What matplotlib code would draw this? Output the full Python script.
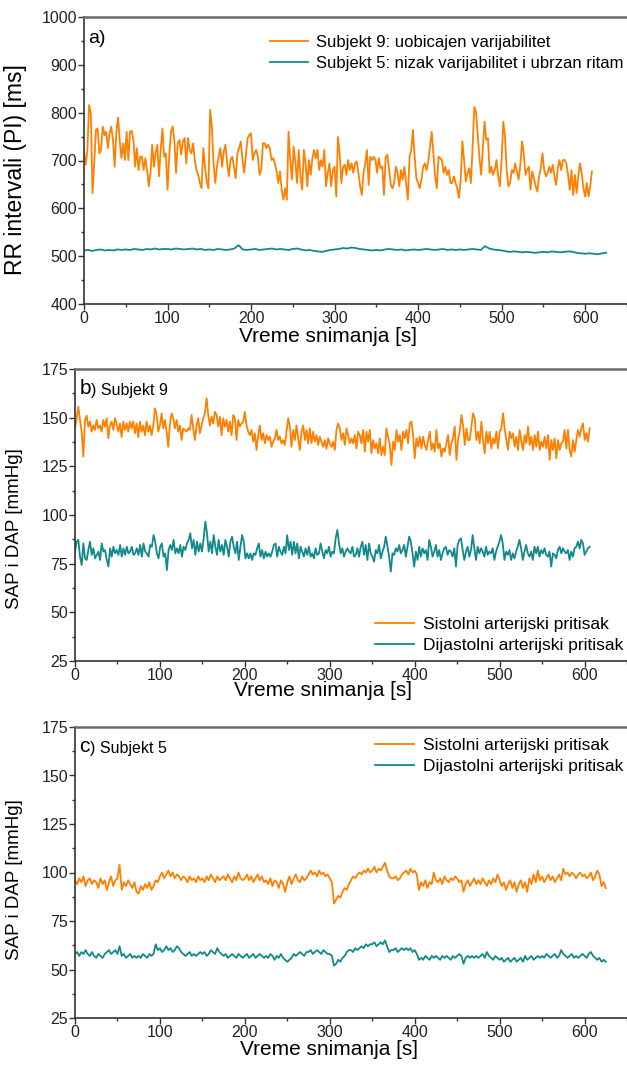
import numpy as np
import matplotlib
matplotlib.use("Agg")
import matplotlib.pyplot as plt
from matplotlib.ticker import MultipleLocator

plt.rcParams['font.family'] = ['Liberation Sans', 'DejaVu Sans']

# ---- data ----
# a) RR intervals [ms]
rr_s9_end = 608
rr_s9 = [
    719, 691, 722, 816, 799, 632, 694, 764, 767, 715,
    722, 771, 753, 760, 726, 757, 771, 743, 687, 760,
    790, 740, 705, 736, 701, 760, 701, 760, 762, 743,
    687, 726, 680, 708, 708, 680, 705, 680, 646, 674,
    733, 687, 715, 733, 667, 722, 767, 708, 715, 639,
    708, 760, 771, 743, 674, 736, 743, 712, 740, 747,
    694, 747, 722, 715, 736, 701, 680, 670, 653, 642,
    726, 687, 656, 642, 806, 771, 694, 653, 687, 708,
    726, 687, 719, 733, 694, 667, 701, 708, 687, 663,
    715, 726, 740, 701, 674, 712, 747, 753, 757, 701,
    715, 722, 708, 670, 680, 736, 736, 726, 733, 726,
    701, 705, 694, 677, 653, 677, 639, 618, 642, 618,
    760, 701, 660, 729, 698, 653, 722, 667, 639, 722,
    694, 646, 701, 670, 705, 722, 705, 722, 680, 701,
    687, 722, 646, 674, 694, 646, 680, 687, 625, 749,
    715, 653, 687,
    691, 670, 701, 680, 694, 674, 694, 698, 674, 646,
    628, 674, 694, 722, 649, 708, 701, 708, 701, 674,
    705, 684, 687, 628, 708, 712, 680, 649, 642, 653,
    687, 674, 646, 680, 660, 687, 653, 618, 708, 722,
    764, 708, 663, 653, 642, 660, 687, 694, 680, 698,
    729, 760, 715, 667, 642, 708, 705, 701, 674, 687,
    670, 680, 653, 653, 667, 653, 642, 622, 660, 740,
    701, 656, 674, 684, 653, 729, 812, 802, 753, 708,
    670, 726, 781, 743, 747, 674, 687, 670, 680, 701,
    667, 646, 701, 781, 750, 680, 646, 653, 680, 674,
    694, 677, 660, 691, 740, 715, 670, 680, 687, 639,
    677, 663, 646, 635, 667, 684, 715, 680, 667, 674,
    687, 674, 691, 667, 649, 684, 701, 680, 701, 701,
    694, 670, 639, 680, 628, 670, 632, 667, 694, 674,
    642, 625, 653, 625, 646, 677,
]
rr_s5_end = 625
rr_s5 = [
    512, 513, 511, 513, 514, 512, 513, 512, 514, 513,
    514, 513, 515, 514, 513, 515, 514, 516, 514, 515,
    515, 514, 516, 515, 514, 515, 516, 514, 515, 513,
    514, 513, 515, 514, 513, 514, 516, 523, 514, 513,
    514, 515, 513, 514, 515, 516, 514, 515, 514, 513,
    515, 516, 514, 512, 513, 511, 510, 509, 511, 513,
    514, 515, 517, 516, 518, 517, 515, 514, 513, 512,
    513, 512, 514, 515, 514, 513, 514, 512, 513, 514,
    513, 514, 515, 514, 513, 514, 515, 513, 514, 513,
    514, 513, 514, 515, 514, 513, 521, 516, 514, 513,
    512, 510, 509, 510, 509, 508, 509, 508, 507, 508,
    509, 508, 510, 509, 508, 509, 510, 509, 507, 506,
    505, 506, 505, 504, 506, 507,
]

# b) Subjekt 9, SAP / DAP [mmHg]
bp9_end = 606
sap9 = [
    144.5, 149.7, 155.6, 148.8, 142.8, 130.0, 148.8, 151.0, 145.4, 148.0,
    142.8, 146.0, 143.7, 148.8, 144.5, 146.0, 142.8, 148.8, 145.4, 149.7,
    139.4, 146.0, 148.0, 143.7, 149.7, 147.0, 142.8, 147.0, 140.0, 148.0,
    143.7, 147.0, 142.8, 148.0, 144.5, 148.0, 142.0, 147.0, 140.0, 148.0,
    142.8, 146.0, 141.0, 148.0, 142.8, 146.0, 141.0, 146.0, 154.8, 151.4,
    142.8, 146.0, 152.2, 144.5, 148.8, 142.8, 135.0, 147.0, 152.2, 149.7,
    144.5, 148.8, 142.8, 146.0, 138.5, 144.5, 143.7, 142.8, 144.5, 143.7,
    151.4, 144.5, 138.5, 146.0, 149.7, 142.0, 146.0, 149.7, 152.2, 160.0,
    151.4, 146.0, 150.5, 147.0, 153.0, 151.4, 145.4, 150.5, 141.0, 149.7,
    145.4, 148.8, 142.8, 148.0, 141.0, 151.4, 149.7, 138.5, 148.8, 145.4,
    147.0, 148.0, 153.0, 146.0, 142.8, 141.0, 143.7, 137.7, 142.0, 133.4,
    141.0, 146.0, 138.5, 142.0, 136.8, 141.0, 138.5, 140.3, 135.0, 137.7,
    139.4, 143.7, 138.5, 140.3, 136.8, 138.5, 136.0, 142.8, 149.7, 145.4,
    135.0, 143.7, 138.5, 146.0, 139.4, 133.4, 142.8, 146.0, 138.5, 143.7,
    136.8, 144.5, 136.8, 142.8, 137.7, 141.0, 136.0, 140.3, 137.7, 135.0,
    138.5, 134.0, 139.4, 136.8, 135.0, 137.7, 133.4, 143.7, 147.0, 144.5,
    138.5, 142.0, 136.0, 144.5, 141.0, 136.8,
    139.4, 136.8, 141.1, 134.2, 142.8, 141.1, 136.8, 143.7, 132.5, 142.8,
    137.7, 143.7, 131.7, 138.5, 134.2, 136.8, 131.7, 139.4, 130.8, 135.1,
    130.8, 144.5, 140.2, 136.0, 125.7, 137.7, 133.4, 143.7, 137.7, 141.1,
    133.4, 142.8, 139.4, 143.7, 136.8, 147.1, 148.0, 141.1, 129.1, 139.4,
    135.1, 140.2, 134.2, 140.2, 136.0, 133.4, 138.5, 142.8, 133.4, 136.8,
    132.5, 143.7, 134.2, 136.8, 130.0, 134.2, 132.5, 136.8, 141.1, 130.8,
    136.8, 139.4, 145.4, 128.3, 138.5, 142.8, 151.4, 146.2, 136.0, 144.5,
    138.5, 138.5, 145.4, 152.2, 149.7, 138.5, 142.8, 136.8, 148.0, 138.5,
    131.7, 142.8, 136.8, 142.8, 134.2, 139.4, 136.8, 142.8, 134.2, 142.8,
    144.5, 152.2, 144.5, 138.5, 133.4, 142.8, 139.4, 142.0, 135.1, 140.2,
    133.4, 143.7, 137.7, 133.4, 141.1, 136.8, 145.4, 136.0, 140.2, 133.4,
    141.1, 135.1, 142.8, 133.4, 137.7, 135.1, 140.2, 134.2, 141.1, 128.3,
    138.5, 133.4, 139.4, 129.1, 138.5, 133.4, 136.8, 137.7, 143.7, 134.2,
    143.7, 133.4, 130.0, 138.5, 132.5, 138.5, 143.7, 140.2, 144.5, 147.1,
    138.5, 142.0, 137.7, 144.5,
]
dap9 = [
    81.2, 86.3, 87.2, 78.6, 74.3, 85.4, 77.7, 76.9, 82.0, 86.3,
    79.5, 82.9, 77.7, 79.5, 81.2, 76.9, 85.4, 81.2, 82.0, 76.9,
    73.5, 82.9, 78.6, 83.7, 80.3, 82.0, 79.5, 84.6, 78.6, 82.9,
    79.5, 83.7, 80.3, 81.2, 83.7, 79.5, 80.3, 82.9, 79.5, 84.6,
    78.6, 85.4, 81.2, 80.3, 78.6, 84.6, 83.7, 89.7, 86.3, 80.3,
    77.7, 83.7, 85.4, 78.6, 80.3, 71.7, 82.0, 84.6, 82.0, 87.2,
    80.3, 82.9, 80.3, 84.6, 78.6, 83.7, 82.0, 85.4, 87.2, 90.6,
    82.9, 87.2, 79.5, 86.3, 81.2, 85.4, 81.2, 88.0, 96.6, 90.6,
    81.2, 86.3, 80.3, 89.7, 83.7, 79.5, 87.2, 81.2, 84.6, 79.5,
    87.2, 83.7, 78.6, 86.3, 88.9, 83.7, 80.3, 86.3, 76.9, 83.7,
    89.7, 86.3, 77.7, 80.3, 77.7, 80.3, 76.9, 80.3, 79.5, 82.9,
    85.4, 78.6, 82.0, 77.7, 81.2, 78.6, 80.3, 78.6, 81.2, 84.6,
    85.4, 78.6, 83.7, 81.2, 79.5, 83.7, 80.3, 89.7, 82.0, 86.3,
    79.5, 86.3, 80.3, 85.4, 77.7, 83.7, 81.2, 78.6, 82.9, 79.5,
    83.7, 78.6, 80.3, 77.7, 82.9, 79.5, 80.3, 85.4, 81.2, 77.7,
    82.0, 80.3, 83.7, 78.6, 81.2, 80.3, 88.0, 92.3, 85.4, 80.3,
    82.9, 78.6, 81.2, 82.9, 81.2,
    80.3, 83.7, 78.6, 79.5, 82.9, 78.6, 83.7, 86.3, 79.5, 84.6,
    76.9, 85.4, 80.3, 78.6, 76.0, 82.0, 80.3, 84.6, 77.7, 81.2,
    83.7, 88.9, 83.7, 78.6, 70.9, 80.3, 79.5, 82.9, 81.2, 84.6,
    80.3, 82.0, 84.6, 78.6, 83.7, 88.9, 86.3, 80.3, 73.5, 81.2,
    76.9, 83.7, 78.6, 82.9, 80.3, 82.0, 76.9, 87.2, 83.7, 78.6,
    81.2, 84.6, 78.6, 82.0, 76.9, 80.3, 82.9, 83.7, 79.5, 82.0,
    81.2, 78.6, 82.9, 73.5, 84.6, 87.2, 88.0, 82.0, 76.9, 81.2,
    83.7, 78.6, 82.0, 89.7, 82.9, 76.9, 83.7, 80.3, 82.9, 81.2,
    78.6, 83.7, 79.5, 81.2, 80.3, 82.9, 76.9, 81.2, 83.7, 86.3,
    89.7, 85.4, 76.9, 81.2, 79.5, 82.0, 76.9, 80.3, 77.7, 81.2,
    83.7, 87.2, 82.9, 76.9, 81.2, 84.6, 80.3, 78.6, 81.2, 76.9,
    83.7, 80.3, 83.7, 78.6, 82.0, 80.3, 82.9, 79.5, 78.6, 81.2,
    73.5, 80.3, 79.5, 77.7, 82.0, 83.7, 80.3, 82.9, 81.2, 80.3,
    82.0, 76.9, 81.2, 78.6, 82.9, 83.7, 86.3, 82.9, 87.2, 85.4,
    79.5, 81.2, 82.9, 83.7,
]

# c) Subjekt 5, SAP / DAP [mmHg], one value every 2.5 s
bp5_end = 625
sap5 = [
    96, 94, 97, 95, 98, 93, 96, 97, 94, 96,
    95, 92, 97, 94, 96, 91, 95, 98, 93, 96,
    97, 104, 91, 95, 93, 96, 94, 92, 95, 90,
    89, 93, 91, 94, 92, 95, 91, 93, 96, 95,
    98, 100, 97, 99, 101, 98, 100, 97, 99, 98,
    96, 98, 97, 95, 98, 96, 97, 95, 98, 96,
    97, 95, 98, 96, 99, 97, 95, 98, 96, 97,
    98, 96, 99, 97, 95, 98, 96, 100, 97, 96,
    97, 99, 96, 98, 95, 97, 99, 96, 98, 95,
    96, 94, 97, 93, 96, 95, 92, 96, 94, 90,
    95, 98, 94, 97, 99, 96, 95, 98, 96, 97,
    99, 101, 99, 100, 98, 101, 99, 100, 98, 99,
    97, 95, 84, 86, 88, 87, 90, 92, 91, 94,
    96, 98, 97, 99, 100, 99, 101, 100, 102, 100,
    101, 103, 100, 102, 101, 103, 105, 101, 98, 97,
    97, 98, 96, 97, 99, 100, 101, 99, 102, 100,
    101, 99, 91, 95, 93, 96, 92, 95, 94, 100,
    96, 95, 97, 94, 98, 96, 95, 97, 96, 98,
    97, 95, 96, 90, 94, 96, 93, 95, 97, 94,
    96, 94, 97, 95, 93, 96, 94, 97, 95, 99,
    96, 93, 95, 91, 94, 96, 92, 95, 90, 94,
    96, 92, 95, 90, 97, 94, 99, 95, 101, 96,
    98, 95, 97, 99, 96, 98, 95, 97, 99, 96,
    102, 99, 100, 98, 100, 99, 97, 99, 100, 98,
    99, 97, 98, 100, 96, 98, 101, 99, 93, 95,
    92,
]
dap5 = [
    58, 59, 57, 59, 58, 60, 58, 57, 59, 57,
    56, 58, 57, 56, 58, 59, 60, 58, 59, 60,
    58, 62, 57, 58, 56, 57, 58, 56, 57, 56,
    57, 56, 58, 57, 56, 58, 57, 58, 63, 60,
    61, 59, 60, 62, 60, 61, 59, 60, 62, 61,
    59, 58, 57, 58, 59, 57, 58, 57, 58, 59,
    58, 59, 57, 58, 60, 59, 58, 61, 59, 58,
    57, 58, 56, 57, 58, 57, 56, 58, 57, 56,
    57, 58, 56, 57, 58, 56, 57, 58, 57, 56,
    57, 56, 58, 57, 55, 57, 56, 58, 56, 55,
    54, 55, 56, 58, 57, 58, 59, 58, 57, 59,
    59, 60, 58, 59, 60, 59, 58, 60, 59, 58,
    58, 57, 52, 53, 55, 54, 56, 57, 59, 60,
    60, 59, 61, 60, 61, 62, 61, 63, 62, 63,
    63, 64, 62, 63, 64, 63, 65, 62, 59, 60,
    60, 61, 59, 60, 61, 60, 61, 60, 61, 59,
    60, 58, 55, 56, 55, 57, 56, 55, 57, 56,
    57, 56, 55, 57, 56, 57, 56, 55, 57, 56,
    57, 58, 57, 53, 56, 57, 56, 57, 56, 57,
    56, 57, 58, 56, 59, 57, 56, 55, 57, 56,
    55, 56, 54, 55, 56, 54, 55, 56, 54, 55,
    56, 54, 57, 55, 56, 57, 55, 56, 57, 56,
    57, 56, 58, 57, 56, 57, 58, 56, 57, 60,
    58, 57, 56, 57, 58, 56, 57, 56, 57, 58,
    57, 56, 58, 59, 57, 56, 55, 56, 54, 55,
    54,
]

orange = '#FF8000'
teal = '#12898A'

fig = plt.figure(figsize=(6.27, 10.69), dpi=100)
W, H = 627.0, 1069.0

def make_axes(left, top, bottom):
    return fig.add_axes([left / W, 1 - bottom / H, (W - left) / W, (bottom - top) / H])

def style(ax, ymin, ymax, ymaj, ymin_step):
    ax.set_xlim(0, 650)
    ax.set_ylim(ymin, ymax)
    ax.xaxis.set_major_locator(MultipleLocator(100))
    ax.xaxis.set_minor_locator(MultipleLocator(50))
    ax.yaxis.set_major_locator(MultipleLocator(ymaj))
    ax.yaxis.set_minor_locator(MultipleLocator(ymin_step))
    ax.tick_params(which='major', direction='out', length=4, width=1, color='#333333',
                   labelsize=11.5, labelcolor='#222222', pad=1)
    ax.tick_params(which='minor', direction='out', length=2.5, width=1, color='#333333')
    ax.spines['right'].set_visible(False)
    for s in ('left', 'bottom'):
        ax.spines[s].set_color('#333333')
        ax.spines[s].set_linewidth(1.2)
    ax.spines['top'].set_color('#6a6a6a')
    ax.spines['top'].set_linewidth(1.8)

leg_kw = dict(frameon=False, handlelength=2.3, handletextpad=0.5, labelspacing=0.35,
              borderaxespad=0, borderpad=0.2)

# ---- a) ----
ax1 = make_axes(84, 17, 304)
ax1.plot(np.linspace(0, rr_s9_end, len(rr_s9)), rr_s9, color=orange, lw=1.3,
         label='Subjekt 9: uobicajen varijabilitet')
ax1.plot(np.linspace(0, rr_s5_end, len(rr_s5)), rr_s5, color=teal, lw=1.3,
         label='Subjekt 5: nizak varijabilitet i ubrzan ritam')
style(ax1, 400, 1000, 100, 50)
ax1.set_ylabel('RR intervali (PI) [ms]', fontsize=16.5)
ax1.set_xlabel('Vreme snimanja [s]', fontsize=15)
ax1.yaxis.set_label_coords(-0.105, 0.47)
ax1.xaxis.set_label_coords(0.45, -0.08)
ax1.text(0.008, 0.925, 'a)', transform=ax1.transAxes, fontsize=14, va='center', ha='left')
ax1.legend(loc='upper right', bbox_to_anchor=(1.0, 0.95), fontsize=12, **leg_kw)

# ---- b) ----
ax2 = make_axes(75, 369, 661)
ax2.plot(np.linspace(0, bp9_end, len(sap9)), sap9, color=orange, lw=1.3,
         label='Sistolni arterijski pritisak')
ax2.plot(np.linspace(0, bp9_end, len(dap9)), dap9, color=teal, lw=1.3,
         label='Dijastolni arterijski pritisak')
style(ax2, 25, 175, 25, 12.5)
ax2.set_ylabel('SAP i DAP [mmHg]', fontsize=13.5)
ax2.set_xlabel('Vreme snimanja [s]', fontsize=15)
ax2.yaxis.set_label_coords(-0.095, 0.455)
ax2.xaxis.set_label_coords(0.45, -0.07)
tb = ax2.text(0.008, 0.915, 'b', transform=ax2.transAxes, fontsize=15, va='baseline')
ax2.annotate(') Subjekt 9', xy=(1, 0), xycoords=tb, fontsize=11.5, va='bottom', ha='left')
ax2.legend(loc='lower right', bbox_to_anchor=(1.0, 0.015), fontsize=12.5, **leg_kw)

# ---- c) ----
ax3 = make_axes(75, 727, 1018)
ax3.plot(np.linspace(0, bp5_end, len(sap5)), sap5, color=orange, lw=1.3,
         label='Sistolni arterijski pritisak')
ax3.plot(np.linspace(0, bp5_end, len(dap5)), dap5, color=teal, lw=1.3,
         label='Dijastolni arterijski pritisak')
style(ax3, 25, 175, 25, 12.5)
ax3.set_ylabel('SAP i DAP [mmHg]', fontsize=13.5)
ax3.set_xlabel('Vreme snimanja [s]', fontsize=15)
ax3.yaxis.set_label_coords(-0.095, 0.475)
ax3.xaxis.set_label_coords(0.46, -0.075)
tc = ax3.text(0.008, 0.915, 'c', transform=ax3.transAxes, fontsize=15, va='baseline')
ax3.annotate(') Subjekt 5', xy=(1, 0), xycoords=tc, fontsize=11.5, va='bottom', ha='left')
ax3.legend(loc='upper right', bbox_to_anchor=(1.0, 0.975), fontsize=12.5, **leg_kw)

fig.savefig('out.png', dpi=100)
